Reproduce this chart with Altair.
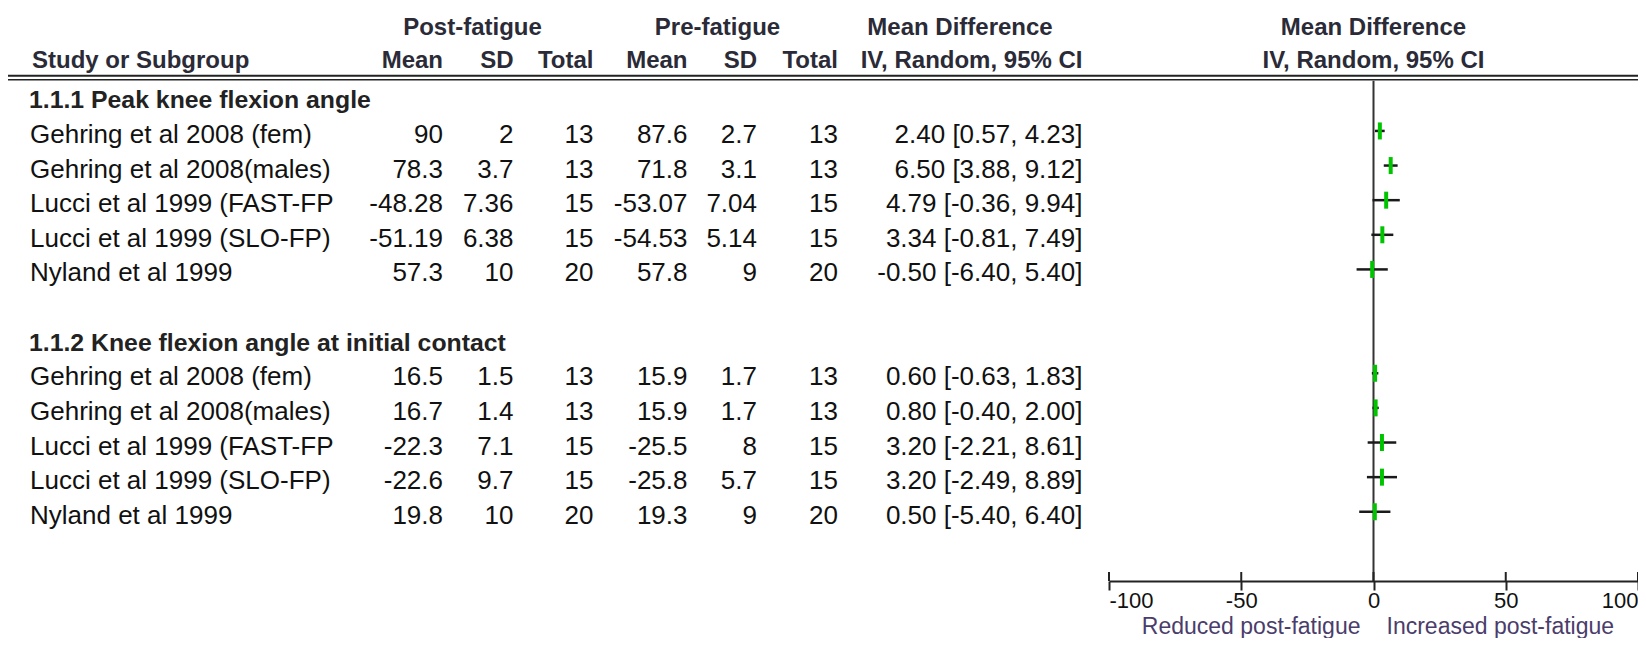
import altair as alt
import pandas as pd

# ---------------- data ----------------
group_titles = ["1.1.1 Peak knee flexion angle", "1.1.2 Knee flexion angle at initial contact"]
group_rows = [0, 7]
studies = ["Gehring et al 2008 (fem)", "Gehring et al 2008(males)", "Lucci et al 1999 (FAST-FP",
           "Lucci et al 1999 (SLO-FP)", "Nyland et al 1999",
           "Gehring et al 2008 (fem)", "Gehring et al 2008(males)", "Lucci et al 1999 (FAST-FP",
           "Lucci et al 1999 (SLO-FP)", "Nyland et al 1999"]
study_rows = [1, 2, 3, 4, 5, 8, 9, 10, 11, 12]
post_mean = [90, 78.3, -48.28, -51.19, 57.3, 16.5, 16.7, -22.3, -22.6, 19.8]
post_sd = [2, 3.7, 7.36, 6.38, 10, 1.5, 1.4, 7.1, 9.7, 10]
post_n = [13, 13, 15, 15, 20, 13, 13, 15, 15, 20]
pre_mean = [87.6, 71.8, -53.07, -54.53, 57.8, 15.9, 15.9, -25.5, -25.8, 19.3]
pre_sd = [2.7, 3.1, 7.04, 5.14, 9, 1.7, 1.7, 8, 5.7, 9]
pre_n = [13, 13, 15, 15, 20, 13, 13, 15, 15, 20]
md = [2.40, 6.50, 4.79, 3.34, -0.50, 0.60, 0.80, 3.20, 3.20, 0.50]
ci_lo = [0.57, 3.88, -0.36, -0.81, -6.40, -0.63, -0.40, -2.21, -2.49, -5.40]
ci_hi = [4.23, 9.12, 9.94, 7.49, 5.40, 1.83, 2.00, 8.61, 8.89, 6.40]
axis_ticks = [-100, -50, 0, 50, 100]
left_label = "Reduced post-fatigue"
right_label = "Increased post-fatigue"


def fmt(v):
    return f"{v:g}"


df = pd.DataFrame({
    "row": study_rows,
    "study": studies,
    "post_mean": [fmt(v) for v in post_mean],
    "post_sd": [fmt(v) for v in post_sd],
    "post_n": [fmt(v) for v in post_n],
    "pre_mean": [fmt(v) for v in pre_mean],
    "pre_sd": [fmt(v) for v in pre_sd],
    "pre_n": [fmt(v) for v in pre_n],
    "md": md,
    "lo": ci_lo,
    "hi": ci_hi,
    "ci": [f"{m:.2f} [{l:.2f}, {h:.2f}]" for m, l, h in zip(md, ci_lo, ci_hi)],
})
gdf = pd.DataFrame({"row": group_rows, "title": group_titles})

# ---------------- styling ----------------
FONT = "Liberation Sans, Arial, sans-serif"
ROW_PX = 34.64
TOP_ROW = -2.551
AXIS_ROW = 14.0
W = 1630
H = round((AXIS_ROW - TOP_ROW) * ROW_PX)
yscale = alt.Scale(domain=[TOP_ROW, AXIS_ROW], reverse=True, nice=False, zero=False)
xscale = alt.Scale(domain=[-100, 100], range=[1101, 1630], nice=False, zero=False)
xaxis = alt.Axis(values=axis_ticks, labelFlush=True, title=None, grid=False,
                 labelExpr="'' + datum.value",
                 labelFont=FONT, labelFontSize=22, labelColor="#111",
                 labelPadding=0, tickSize=9, tickWidth=2, tickColor="#222",
                 domainWidth=2, domainColor="#222", orient="bottom")
Y = alt.Y("row:Q", scale=yscale, axis=None)
TXT = "#111"
HDR = "#2b2b38"

layers = []

# header rows
hdr_items = [
    ("Post-fatigue", -2.12, 464.5, "center"),
    ("Pre-fatigue", -2.12, 709.5, "center"),
    ("Mean Difference", -2.12, 952, "center"),
    ("Study or Subgroup", -1.165, 24, "left"),
    ("Mean", -1.165, 435, "right"),
    ("SD", -1.165, 505.5, "right"),
    ("Total", -1.165, 585.5, "right"),
    ("Mean", -1.165, 679.5, "right"),
    ("SD", -1.165, 749, "right"),
    ("Total", -1.165, 830, "right"),
    ("IV, Random, 95% CI", -1.165, 1074.5, "right"),
]
for t, r, px, al in hdr_items:
    layers.append(alt.Chart(pd.DataFrame({"t": [t], "row": [r]}))
                  .mark_text(align=al, baseline="alphabetic", dy=12, font=FONT,
                             fontSize=24, fontWeight="bold", color=HDR)
                  .encode(x=alt.value(px), y=Y, text="t:N"))

# forest header
fh = pd.DataFrame({"t": ["Mean Difference", "IV, Random, 95% CI"], "row": [-2.12, -1.165], "v": [0, 0]})
layers.append(alt.Chart(fh).mark_text(align="center", baseline="alphabetic", dy=12, font=FONT,
                                      fontSize=24, fontWeight="bold", color=HDR)
              .encode(x=alt.X("v:Q", scale=xscale, axis=xaxis), y=Y, text="t:N"))

# double separator line
for r, sw in [(-0.595, 2), (-0.48, 1.5)]:
    layers.append(alt.Chart(pd.DataFrame({"row": [r]})).mark_rule(color="#222", strokeWidth=sw)
                  .encode(x=alt.value(0), x2=alt.value(W), y=Y))

# group titles
layers.append(alt.Chart(gdf).mark_text(align="left", baseline="alphabetic", dy=12, font=FONT,
                                       fontSize=24.8, fontWeight="bold", color="#222")
              .encode(x=alt.value(21), y=Y, text="title:N"))

# table columns
cols = [("study", 22, "left"), ("post_mean", 435, "right"), ("post_sd", 505.5, "right"),
        ("post_n", 585.5, "right"), ("pre_mean", 679.5, "right"), ("pre_sd", 749, "right"),
        ("pre_n", 830, "right"), ("ci", 1074.5, "right")]
for f, px, al in cols:
    layers.append(alt.Chart(df).mark_text(align=al, baseline="alphabetic", dy=12, font=FONT,
                                          fontSize=26, color=TXT)
                  .encode(x=alt.value(px), y=Y, text=f"{f}:N"))

# zero line
layers.append(alt.Chart(pd.DataFrame({"v": [0], "row": [-0.45], "row2": [AXIS_ROW]}))
              .mark_rule(color="#333", strokeWidth=2)
              .encode(x=alt.X("v:Q", scale=xscale, axis=xaxis), y=Y, y2="row2:Q"))

# upper halves of the axis ticks
tk = pd.DataFrame({"v": axis_ticks, "row": [AXIS_ROW] * len(axis_ticks),
                   "row2": [AXIS_ROW - 9 / ROW_PX] * len(axis_ticks)})
layers.append(alt.Chart(tk).mark_rule(color="#222", strokeWidth=2)
              .encode(x=alt.X("v:Q", scale=xscale, axis=xaxis), y=Y, y2="row2:Q"))

# confidence intervals
layers.append(alt.Chart(df).mark_rule(color="#1a1a1a", strokeWidth=2.5)
              .encode(x=alt.X("lo:Q", scale=xscale, axis=xaxis), x2="hi:Q", y=Y))

# point estimates (green boxes)
layers.append(alt.Chart(df).mark_tick(color="#00c400", orient="vertical", size=17, thickness=4, opacity=1)
              .encode(x=alt.X("md:Q", scale=xscale, axis=xaxis), y=Y))

# favours labels
for t, al, dx in [(left_label, "right", -13), (right_label, "left", 13)]:
    layers.append(alt.Chart(pd.DataFrame({"t": [t], "v": [0], "row": [AXIS_ROW]}))
                  .mark_text(align=al, baseline="alphabetic", dx=dx, dy=53, font=FONT,
                             fontSize=23, color="#4a3d6b")
                  .encode(x=alt.X("v:Q", scale=xscale, axis=xaxis), y=Y, text="t:N"))

chart = alt.layer(*layers).properties(
    width=W, height=H,
    autosize=alt.AutoSizeParams(type="none"),
    padding={"left": 0, "top": 0, "right": 0, "bottom": 630 - H},
).configure_view(stroke=None)

chart.save("out.html", embed_options={"renderer": "svg", "actions": False})
